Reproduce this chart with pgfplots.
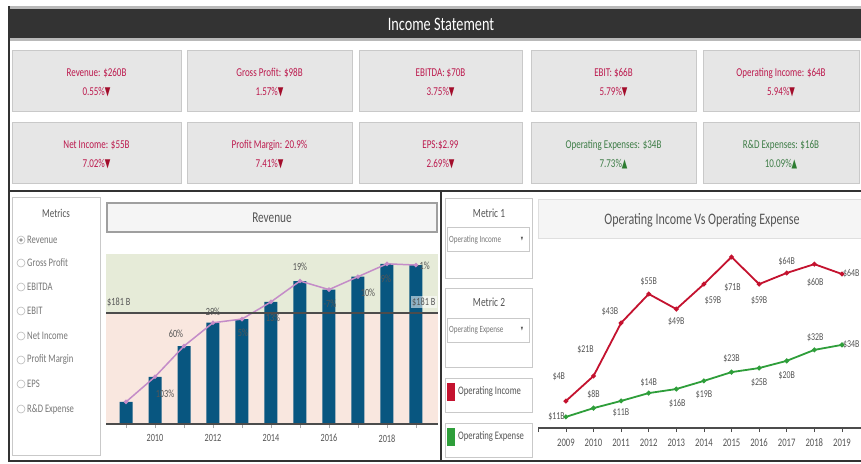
\documentclass[border=0pt]{standalone}
\usepackage{pgfplots}
\pgfplotsset{compat=1.18}
\usepackage{fontspec}
\setmainfont{Carlito}[FakeStretch=0.75]
\newfontfamily\sym{DejaVu Sans}[FakeStretch=0.6]
\definecolor{titlebar}{HTML}{333333}
\definecolor{boxfill}{HTML}{E6E6E6}
\definecolor{boxline}{HTML}{C9C9C9}
\definecolor{kpired}{HTML}{BC1A4E}
\definecolor{arrred}{HTML}{A30D2B}
\definecolor{kpigreen}{HTML}{3E7D47}
\definecolor{arrgreen}{HTML}{2E7D32}
\definecolor{barblue}{HTML}{085680}
\definecolor{linepurple}{HTML}{C48CC8}
\definecolor{bandgreen}{HTML}{E6EBD8}
\definecolor{bandpink}{HTML}{F9E7DF}
\definecolor{redline}{HTML}{C4122F}
\definecolor{greenline}{HTML}{2E9E3A}
\definecolor{txtgray}{HTML}{555555}
\definecolor{lightgray}{HTML}{777777}
\newcommand\dn{{\sym\textcolor{arrred}{▼}}}
\newcommand\up{{\sym\textcolor{arrgreen}{▲}}}
\newcommand\kpi[5]{%
  \filldraw[fill=boxfill, draw=boxline, line width=1pt] (#1,#3) rectangle (#2,#3+61);
  \node[font=\fontsize{12}{13}\selectfont, inner sep=0pt] at ({(#1+#2)/2},#3+23) {#4};
  \node[font=\fontsize{12}{13}\selectfont, inner sep=0pt] at ({(#1+#2)/2},#3+42) {#5};
}
\begin{document}
\begin{tikzpicture}[x=1pt,y=-1pt]
\useasboundingbox (0,0) rectangle (861,463);
\fill[white] (0,0) rectangle (861,463);
% title bar
\fill[gray!55] (9,6) rectangle (861,41);
\fill[titlebar] (9,9) rectangle (861,38);
\node[white, font=\fontsize{19}{21}\selectfont] at (441,24) {Income Statement};
% outer borders
\draw[titlebar, line width=1.2pt] (9,6) -- (9,462);
% KPI row 1
\kpi{12}{181}{50}{\textcolor{kpired}{Revenue: \$260B}}{\textcolor{kpired}{0.55\%}\dn}
\kpi{187}{352}{50}{\textcolor{kpired}{Gross Profit: \$98B}}{\textcolor{kpired}{1.57\%}\dn}
\kpi{359}{522}{50}{\textcolor{kpired}{EBITDA: \$70B}}{\textcolor{kpired}{3.75\%}\dn}
\kpi{531}{696}{50}{\textcolor{kpired}{EBIT: \$66B}}{\textcolor{kpired}{5.79\%}\dn}
\kpi{703}{859}{50}{\textcolor{kpired}{Operating Income: \$64B}}{\textcolor{kpired}{5.94\%}\dn}
% KPI row 2
\kpi{12}{181}{122}{\textcolor{kpired}{Net Income: \$55B}}{\textcolor{kpired}{7.02\%}\dn}
\kpi{187}{352}{122}{\textcolor{kpired}{Profit Margin: 20.9\%}}{\textcolor{kpired}{7.41\%}\dn}
\kpi{359}{522}{122}{\textcolor{kpired}{EPS:\$2.99}}{\textcolor{kpired}{2.69\%}\dn}
\kpi{531}{696}{122}{\textcolor{kpigreen}{Operating Expenses: \$34B}}{\textcolor{kpigreen}{7.73\%}\up}
\kpi{703}{859}{122}{\textcolor{kpigreen}{R\&D Expenses: \$16B}}{\textcolor{kpigreen}{10.09\%}\up}
% separators
\draw[titlebar, line width=2pt] (9,191) -- (861,191);
\draw[titlebar, line width=1.5pt] (441,191) -- (441,462);
\draw[titlebar, line width=1.5pt] (9,461) -- (861,461);
% Metrics panel
\draw[boxline, line width=0.8pt] (12,197) rectangle (100,455);
\node[txtgray, font=\fontsize{12}{13}\selectfont] at (56,213) {Metrics};
\foreach \yy/\tt in {240/Revenue,263/Gross Profit,287/EBITDA,311/EBIT,336/Net Income,360/Profit Margin,384/EPS,409/R\&D Expense}{
  \draw[gray!55, line width=0.6pt] (21,\yy) circle (4);
  \node[lightgray, anchor=west, inner sep=0pt, font=\fontsize{11.5}{12}\selectfont] at (27,\yy) {\tt};
}
\fill[gray!80] (21,240) circle (1.8);
% Revenue title
\filldraw[fill=gray!8, draw=gray!75, line width=1.3pt] (107,203) rectangle (437,232);
\node[txtgray, font=\fontsize{15}{17}\selectfont] at (272,218) {Revenue};
% Revenue chart
\begin{axis}[at={(106pt,-424pt)}, anchor=south west, scale only axis,
  width=332pt, height=170pt, xmin=2008.31, xmax=2019.76, ymin=0, ymax=277,
  axis x line*=bottom, axis y line=none, axis line style={draw=none},
  xtick={2009,...,2019}, xticklabels={,2010,,2012,,2014,,2016,,2018,},
  xtick pos=bottom, tick align=outside, major tick length=4pt,
  tick style={gray!70, line width=0.6pt},
  xticklabel style={txtgray, font=\fontsize{11}{12}\selectfont, yshift=-3pt},
  clip=false]
\fill[bandgreen] (axis cs:2008.31,181) rectangle (axis cs:2019.76,277);
\fill[bandpink] (axis cs:2008.31,0) rectangle (axis cs:2019.76,181);
\addplot[ybar, bar width=13pt, fill=barblue, draw=none] coordinates {
 (2009,36) (2010,77) (2011,127) (2012,165) (2013,171) (2014,199)
 (2015,233) (2016,219) (2017,240) (2018,261) (2019,259)};
\addplot[linepurple, line width=1.5pt, mark=*, mark size=1.4pt] coordinates {
 (2009,36) (2010,77) (2011,127) (2012,165) (2013,171) (2014,199)
 (2015,233) (2016,219) (2017,240) (2018,261) (2019,259)};
\draw[gray!60!black, line width=1.6pt] (axis cs:2008.31,181) -- (axis cs:2019.76,181);
\draw[gray!60!black, line width=1.2pt] (axis cs:2008.31,0) -- (axis cs:2019.76,0);
\tikzset{lb/.style={txtgray, font=\fontsize{11}{12}\selectfont, inner sep=0pt}}
\node[lb, xshift=10pt, yshift=-17pt] at (axis cs:2010,77) {103\%};
\node[lb, xshift=-8pt, yshift=12pt] at (axis cs:2011,127) {60\%};
\node[lb, yshift=11pt] at (axis cs:2012,165) {29\%};
\node[lb, xshift=1pt, yshift=-14pt] at (axis cs:2013,171) {5\%};
\node[lb, xshift=2pt, yshift=-16pt] at (axis cs:2014,199) {13\%};
\node[lb, yshift=14pt] at (axis cs:2015,233) {19\%};
\node[lb, xshift=1pt, yshift=-14pt] at (axis cs:2016,219) {-7\%};
\node[lb, xshift=10pt, yshift=-16pt] at (axis cs:2017,240) {10\%};
\node[lb, xshift=-1pt, yshift=-15pt] at (axis cs:2018,261) {9\%};
\node[lb, anchor=west, xshift=1pt, yshift=-1pt] at (axis cs:2019,259) {-1\%};
\node[lb, anchor=west, xshift=1pt, yshift=11pt] at (axis cs:2008.31,181) {\$181 B};
\node[lb, anchor=east, fill=white, fill opacity=0.55, text opacity=1, inner sep=1.5pt, xshift=-1pt, yshift=11pt] at (axis cs:2019.76,181) {\$181 B};
\end{axis}
% Right panel: selectors
\draw[boxline, line width=0.8pt] (445,198) rectangle (532,278);
\node[txtgray, font=\fontsize{12.5}{13}\selectfont] at (489,213) {Metric 1};
\draw[boxline, line width=0.8pt] (447,227) rectangle (529,251);
\node[lightgray, anchor=west, font=\fontsize{9.5}{10}\selectfont, inner sep=0pt] at (449,240) {Operating Income};
\node[txtgray, font=\fontsize{5}{6}\selectfont\sym, inner sep=0pt] at (522,239) {▼};
\draw[boxline, line width=0.8pt] (445,288) rectangle (532,367);
\node[txtgray, font=\fontsize{12.5}{13}\selectfont] at (489,302) {Metric 2};
\draw[boxline, line width=0.8pt] (447,318) rectangle (529,342);
\node[lightgray, anchor=west, font=\fontsize{9.5}{10}\selectfont, inner sep=0pt] at (449,330) {Operating Expense};
\node[txtgray, font=\fontsize{5}{6}\selectfont\sym, inner sep=0pt] at (522,329) {▼};
\draw[boxline, line width=0.8pt] (445,378) rectangle (532,412);
\fill[redline] (447,383) rectangle (455,401);
\node[txtgray, anchor=west, font=\fontsize{11.5}{12}\selectfont, inner sep=0pt] at (458,392) {Operating Income};
\draw[boxline, line width=0.8pt] (445,423) rectangle (532,457);
\fill[greenline] (447,428) rectangle (455,446);
\node[txtgray, anchor=west, font=\fontsize{11.5}{12}\selectfont, inner sep=0pt] at (458,437) {Operating Expense};
% right title
\filldraw[fill=gray!8, draw=gray!25, line width=0.8pt] (538,199) rectangle (861,238);
\node[txtgray, font=\fontsize{16}{18}\selectfont] at (702,220) {Operating Income Vs Operating Expense};
% Operating income axis
\begin{axis}[at={(538pt,-428pt)}, anchor=south west, scale only axis,
  width=323pt, height=188pt, xmin=2007.99, xmax=2019.69, ymin=-9.05, ymax=80.5,
  axis x line*=bottom, axis y line=none,
  axis line style={draw=gray!60!black, line width=1.2pt, -},
  xtick={2009,...,2019},
  xticklabels={2009,2010,2011,2012,2013,2014,2015,2016,2017,2018,2019},
  extra x ticks={2007.99}, extra x tick labels={},
  xtick pos=bottom, tick align=outside, major tick length=4pt,
  tick style={gray!60!black, line width=0.6pt},
  xticklabel style={txtgray, font=\fontsize{11.5}{12}\selectfont, yshift=-3pt},
  clip=false]
\addplot[redline, line width=1.8pt, mark=*, mark size=1.4pt] coordinates {
 (2009,3.8) (2010,15.7) (2011,41) (2012,54.8) (2013,47.6) (2014,59.5)
 (2015,72.4) (2016,59.5) (2017,64.8) (2018,69) (2019,64.3)};
\tikzset{lb/.style={txtgray, font=\fontsize{10.5}{11}\selectfont, inner sep=0pt}}
\node[lb, xshift=-7pt, yshift=24pt] at (axis cs:2009,3.8) {\$4B};
\node[lb, xshift=-8pt, yshift=26pt] at (axis cs:2010,15.7) {\$21B};
\node[lb, xshift=-11pt, yshift=11pt] at (axis cs:2011,41) {\$43B};
\node[lb, yshift=12pt] at (axis cs:2012,54.8) {\$55B};
\node[lb, yshift=-13pt] at (axis cs:2013,47.6) {\$49B};
\node[lb, xshift=9pt, yshift=-17pt] at (axis cs:2014,59.5) {\$59B};
\node[lb, xshift=1pt, yshift=-31pt] at (axis cs:2015,72.4) {\$71B};
\node[lb, yshift=-17pt] at (axis cs:2016,59.5) {\$59B};
\node[lb, yshift=11pt] at (axis cs:2017,64.8) {\$64B};
\node[lb, xshift=1pt, yshift=-18pt] at (axis cs:2018,69) {\$60B};
\node[lb, anchor=west, xshift=1pt] at (axis cs:2019,64.3) {\$64B};
\end{axis}
% Operating expense axis
\begin{axis}[at={(538pt,-428pt)}, anchor=south west, scale only axis,
  width=323pt, height=188pt, xmin=2007.99, xmax=2019.69, ymin=7.35, ymax=67.4,
  hide axis, clip=false]
\addplot[greenline, line width=1.8pt, mark=*, mark size=1.4pt] coordinates {
 (2009,10.9) (2010,13.7) (2011,16) (2012,18.5) (2013,19.8) (2014,22.4)
 (2015,25.2) (2016,26.5) (2017,28.8) (2018,32.3) (2019,33.9)};
\tikzset{lb/.style={txtgray, font=\fontsize{10.5}{11}\selectfont, inner sep=0pt}}
\node[lb, anchor=east, xshift=-1pt] at (axis cs:2009,10.9) {\$11B};
\node[lb, yshift=14pt] at (axis cs:2010,13.7) {\$8B};
\node[lb, yshift=-12pt] at (axis cs:2011,16) {\$11B};
\node[lb, yshift=10pt] at (axis cs:2012,18.5) {\$14B};
\node[lb, xshift=1pt, yshift=-15pt] at (axis cs:2013,19.8) {\$16B};
\node[lb, yshift=-14pt] at (axis cs:2014,22.4) {\$19B};
\node[lb, yshift=13pt] at (axis cs:2015,25.2) {\$23B};
\node[lb, yshift=-15pt] at (axis cs:2016,26.5) {\$25B};
\node[lb, yshift=-15pt] at (axis cs:2017,28.8) {\$20B};
\node[lb, xshift=1pt, yshift=12pt] at (axis cs:2018,32.3) {\$32B};
\node[lb, anchor=west, xshift=1pt] at (axis cs:2019,33.9) {\$34B};
\end{axis}
\end{tikzpicture}
\end{document}
